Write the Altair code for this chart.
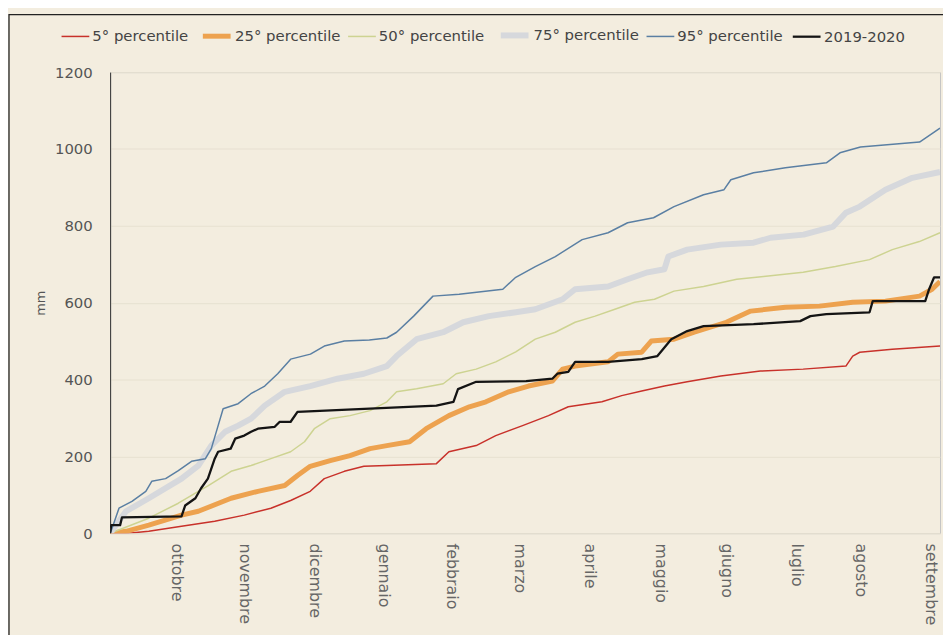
import altair as alt
import pandas as pd

series_names = ["5° percentile", "25° percentile", "50° percentile",
                "75° percentile", "95° percentile", "2019-2020"]
series_colors = ["#c8312a", "#eda24f", "#cdd391", "#d6d8dc", "#5a7fa3", "#141414"]
series_widths = [1.5, 5, 1.5, 6, 1.5, 2.3]

month_names = ["ottobre", "novembre", "dicembre", "gennaio", "febbraio", "marzo",
               "aprile", "maggio", "giugno", "luglio", "agosto", "settembre"]
month_ticks = [29, 59, 90, 120, 150, 180, 211, 242, 271, 302, 330, 361]
y_ticks = [0, 200, 400, 600, 800, 1000, 1200]

p5_day = [0, 8, 17, 31.4, 46, 59, 70.7, 79.4, 88, 94.2, 103, 111.6, 121.7, 143.5, 149, 161,
          169.6, 181.4, 192.8, 201.5, 216.3, 225, 233.8, 243.8, 253.8, 268.6, 286, 304.8,
          323.6, 326.6, 329.7, 344, 365]
p5_mm = [0, 0, 5, 18, 31, 47, 65, 85, 109, 142, 161, 174, 176, 181, 212, 228,
         254, 280, 306, 329, 342, 358, 370, 383, 394, 409, 422, 427,
         435, 461, 471, 479, 487]

p25_day = [0, 7, 17, 31.4, 38.8, 53.2, 65, 76.8, 82.4, 88, 96.8, 105.5, 114.3, 121.7, 131.7,
           139, 149, 158, 165.3, 175.3, 184, 194.5, 199, 204.5, 219, 223.3, 233.8, 238, 248,
           256.9, 271, 281.7, 297, 312, 326.6, 341, 356, 361.5, 365]
p25_mm = [0, 5, 21, 47, 57, 91, 109, 124, 150, 174, 189, 202, 220, 228, 238,
          272, 306, 329, 342, 368, 383, 396, 427, 435, 446, 466, 471, 500, 505,
          523, 549, 578, 588, 591, 601, 604, 617, 635, 655]

p50_day = [0, 17, 30, 38.8, 43.2, 53.2, 62, 70.7, 79.4, 85.5, 89.8, 96.8, 105.5, 114.3, 121.7,
           126, 134.8, 146.5, 152.2, 161, 169.6, 178.4, 187, 195.8, 204.5, 213.3, 222, 230.7,
           239.4, 248, 261, 275.6, 287.4, 304.8, 319, 334, 344, 355.9, 365]
p50_mm = [0, 39, 78, 109, 124, 161, 176, 194, 212, 238, 272, 298, 306, 319, 342,
          368, 376, 389, 415, 427, 446, 472, 505, 523, 549, 565, 583, 601,
          609, 630, 642, 661, 668, 679, 694, 712, 738, 759, 782]

p75_day = [0, 7, 17, 31.4, 38.8, 44.5, 50.6, 56.3, 62, 68, 76.8, 88, 100, 111.6, 121.7, 126,
           134.8, 146.5, 155.3, 166.6, 178.4, 187, 199, 204.5, 219, 227.6, 236.4, 243.8, 245.5,
           253.8, 268.6, 283, 290.5, 305, 318, 323.6, 329.7, 341, 352.8, 365]
p75_mm = [0, 57, 91, 142, 176, 228, 264, 280, 298, 332, 368, 383, 402, 415, 435, 461,
          505, 523, 549, 565, 575, 583, 609, 635, 642, 661, 679, 687, 720,
          738, 751, 756, 769, 777, 798, 834, 850, 894, 925, 940]

p95_day = [0, 0.4, 3.9, 9.6, 15.7, 18.3, 24.4, 30, 35.8, 41.9, 44.5, 47.5, 49.7, 56.3, 61.9,
           68, 73.7, 79.4, 88.1, 94.2, 103, 114, 121.7, 126, 133.5, 142, 153.5, 172.7, 178.4,
           187, 195.8, 207.6, 219, 227.6, 239, 248, 261, 270, 273, 283, 297, 315, 321, 330,
           356, 365]
p95_mm = [0, 5, 65, 83, 109, 135, 142, 163, 187, 194, 220, 280, 324, 337, 363,
          383, 415, 453, 466, 487, 500, 503, 508, 523, 565, 617, 622, 635, 666,
          694, 720, 764, 782, 808, 821, 850, 881, 894, 920, 938, 951, 964, 990, 1005,
          1018, 1054]

y1920_day = [0, 0.5, 4.4, 5.2, 31.4, 33, 37.5, 40, 43, 46, 47.5, 53, 55, 59, 62, 65, 72.4,
             74.6, 79.4, 82.4, 143.5, 151, 153, 161, 183, 194.5, 196.7, 201.5, 204.5, 219,
             233.8, 240.7, 246.8, 253.8, 261, 283, 303.5, 308, 315, 334, 335.4, 358.5, 360.2,
             362.4, 365]
y1920_mm = [0, 21, 21, 41, 44, 72, 91, 117, 142, 194, 212, 220, 246, 254, 264, 272, 277,
            290, 290, 316, 332, 342, 375, 394, 396, 402, 415, 420, 446, 446,
            453, 461, 505, 526, 539, 544, 552, 565, 570, 575, 604, 604, 635,
            666, 666]

all_days = [p5_day, p25_day, p50_day, p75_day, p95_day, y1920_day]
all_vals = [p5_mm, p25_mm, p50_mm, p75_mm, p95_mm, y1920_mm]

rows = []
for idx, (name, days, vals) in enumerate(zip(series_names, all_days, all_vals)):
    for d, v in zip(days, vals):
        rows.append({"serie": name, "giorno": d, "mm": v, "k": idx})
df = pd.DataFrame(rows)

label_expr = ("[" + ",".join("'%s'" % m for m in month_names) + "][indexof(["
              + ",".join(str(t) for t in month_ticks) + "], datum.value)]")

legend_opts = dict(
    title=None, orient="none", direction="horizontal", legendX=-50, legendY=-54,
    symbolType="stroke", symbolSize=784, labelOffset=2, columnPadding=4, padding=0,
    labelFontSize=15, labelColor="#444444", labelFont="DejaVu Sans",
)

bg = "#f3eddf"

frame = alt.Chart(pd.DataFrame({"k": [0]})).mark_rect(
    fill="transparent", stroke="#222222", strokeWidth=1.3, clip=False
).encode(x=alt.value(-102), x2=alt.value(870), y=alt.value(-58), y2=alt.value(620))

lines = alt.Chart(df).mark_line(clip=True, strokeJoin="round").encode(
    x=alt.X("giorno:Q",
            scale=alt.Scale(domain=[0, 365], nice=False, zero=False),
            axis=alt.Axis(values=month_ticks, labelExpr=label_expr, title=None,
                          labelAngle=90, labelPadding=10, ticks=False, domain=False,
                          grid=False, labelFontSize=16, labelColor="#666666",
                          labelOverlap=False, labelFlush=False)),
    y=alt.Y("mm:Q",
            scale=alt.Scale(domain=[0, 1200], nice=False),
            axis=alt.Axis(values=y_ticks, format="d", title="mm", ticks=False, domain=True,
                          domainColor="#333333", domainWidth=1, labelPadding=18,
                          labelFontSize=15, labelColor="#555555", grid=True,
                          gridColor="#e7e1d0", titleFontSize=13,
                          titleFontWeight="normal", titleColor="#555555",
                          titlePadding=7)),
    color=alt.Color("serie:N", scale=alt.Scale(domain=series_names, range=series_colors),
                    legend=alt.Legend(**legend_opts)),
    strokeWidth=alt.StrokeWidth("serie:N",
                                scale=alt.Scale(type="ordinal", domain=series_names,
                                                range=series_widths),
                                legend=alt.Legend(**legend_opts)),
    order=alt.Order("giorno:Q"),
)

chart = alt.layer(frame, lines).properties(
    width=837, height=465,
    padding={"left": 103, "top": 62, "right": 3, "bottom": 100},
    autosize=alt.AutoSizeParams(type="none"),
).configure(
    background=bg, font="DejaVu Sans"
).configure_view(
    stroke="#c4c4c4", fill=bg
)

chart.save("out.html", embed_options={"renderer": "svg", "actions": False})
